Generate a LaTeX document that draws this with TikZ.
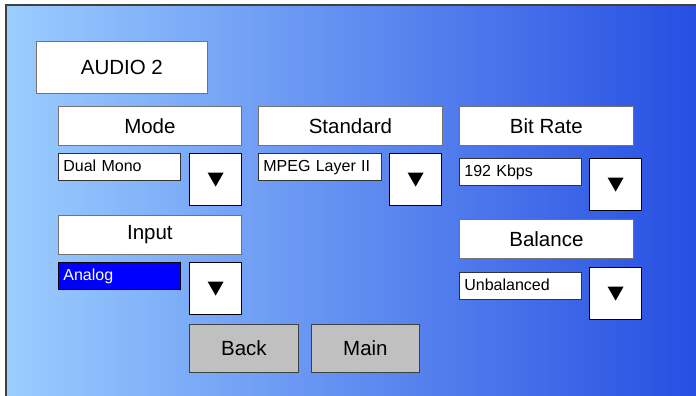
\documentclass[tikz,border=0pt]{standalone}
\usepackage{fontspec}
\setmainfont{Liberation Sans}
\definecolor{bgleft}{RGB}{155,205,255}
\definecolor{bgright}{RGB}{38,78,226}
\definecolor{selblue}{RGB}{0,0,255}
\definecolor{btngray}{RGB}{192,192,192}

\begin{document}
\begin{tikzpicture}[x=1pt,y=-1pt,
  lbl/.style={draw=black!55,fill=white,line width=0.8pt,minimum height=39pt,inner sep=0pt,font=\fontsize{20.5}{24}\selectfont},
  field/.style={draw=black!80,fill=white,line width=0.8pt,minimum height=27pt,inner xsep=5pt,inner ysep=0pt,
    text height=11.5pt,text depth=2pt,align=left,font=\fontsize{16}{18}\selectfont},
  ddbox/.style={draw=black,fill=white,line width=1.2pt,minimum width=52pt,minimum height=52pt,inner sep=0pt},
  btn/.style={draw=black!75,fill=btngray,line width=0.8pt,minimum width=108pt,minimum height=48pt,inner sep=0pt,font=\fontsize{20.5}{24}\selectfont}]
  \useasboundingbox (0,0) rectangle (696,396);
  \shade[left color=bgleft,right color=bgright] (6,5) rectangle (700,400);
  \draw[black!75,line width=1.5pt] (720,5) -- (6,5) -- (6,420);

  \def\dd#1#2#3{
    \node[ddbox,anchor=north west] (#1) at (#2,#3) {};
    \fill[shift={(#1.center)}] (-8,-7) -- (8,-7) -- (0,7) -- cycle;
  }

  \node[lbl,anchor=north west,minimum width=171pt,minimum height=52pt] (title) at (36,41) {AUDIO 2};

  \foreach \nm/\x/\y/\w/\t in {mode/58/106/183/Mode, std/258/106/184/Standard,
      rate/459/106/174/Bit Rate, input/58/215/183/Input, bal/459/219/174/Balance}
    \node[lbl,anchor=north west,minimum width=\w] (\nm) at (\x,\y) {\t};

  \foreach \nm/\x/\y/\w/\t in {modef/58/153/112/Dual Mono, stdf/258/153/113/MPEG Layer II,
      ratef/459/158/112/192 Kbps, balf/459/272/112/Unbalanced}
    \node[field,anchor=north west,text width=\w] (\nm) at (\x,\y) {\t};
  \node[field,anchor=north west,text width=112pt,fill=selblue,draw=black,text=white] (inputf) at (58,262) {Analog};

  \dd{modedd}{189}{153}
  \dd{stddd}{389}{153}
  \dd{ratedd}{589}{158}
  \dd{inputdd}{189}{262}
  \dd{baldd}{589}{267}

  \node[btn,anchor=north west,minimum width=109pt] (back) at (189,324) {Back};
  \node[btn,anchor=north west] (main) at (311,324) {Main};
\end{tikzpicture}
\end{document}
